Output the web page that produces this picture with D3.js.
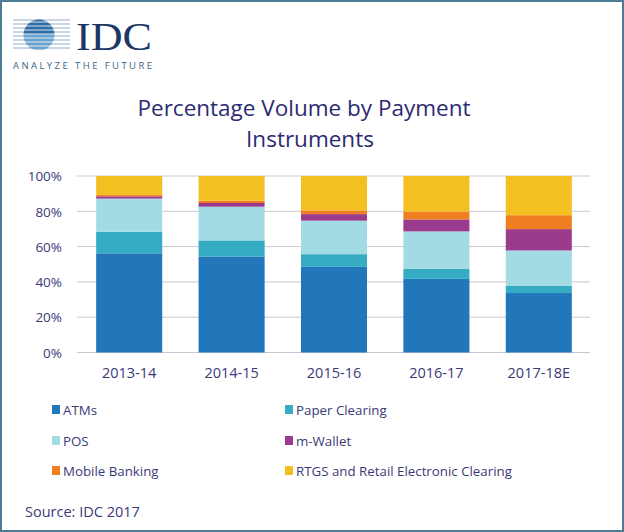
<!DOCTYPE html>
<html><head><meta charset="utf-8">
<script src="https://cdn.jsdelivr.net/npm/d3@7"></script>
<style>html,body{margin:0;padding:0;background:#fff;}svg{display:block;}</style>
</head><body>
<svg id="c" width="624" height="532"></svg>
<script>
const categories = ["2013-14","2014-15","2015-16","2016-17","2017-18E"];
const seriesNames = ["ATMs","Paper Clearing","POS","m-Wallet","Mobile Banking","RTGS and Retail Electronic Clearing"];
const seriesColors = ["#2277bb","#36abc4","#a3dbe4","#9b3b8e","#f07f22","#f4bf21"];
const atms   = [56.2, 54.4, 48.5, 41.7, 33.7];
const paper  = [12.2,  9.1,  7.2,  5.7,  4.2];
const pos    = [18.8, 19.1, 19.0, 21.2, 19.9];
const wallet = [ 1.3,  2.1,  3.7,  6.8, 12.1];
const mobile = [ 0.7,  1.3,  2.1,  4.4,  7.9];
const rtgs   = [10.8, 14.0, 19.5, 20.2, 22.2];
const yTicks = [0, 20, 40, 60, 80, 100];

const seriesValues = [atms, paper, pos, wallet, mobile, rtgs];
const rows = categories.map((c,i)=>{
  const r = {cat:c};
  seriesNames.forEach((s,j)=>{ r[s] = seriesValues[j][i]; });
  return r;
});

const svg = d3.select("#c");
const textCol = "#3b3a78";
const font = "'Open Sans', sans-serif";

// frame
svg.append("rect").attr("x",1).attr("y",1).attr("width",622).attr("height",530)
  .attr("fill","#fff").attr("stroke","#4d7c99").attr("stroke-width",2);

// logo
const logo = svg.append("g");
const cl = svg.append("defs").append("clipPath").attr("id","globe");
cl.append("circle").attr("cx",39).attr("cy",35).attr("r",15.5);
const stripeYs = d3.range(20, 52, 4);
logo.selectAll("line.s").data(stripeYs).join("line")
  .attr("x1",13).attr("x2",70).attr("y1",d=>d).attr("y2",d=>d)
  .attr("stroke","#b8c9da").attr("stroke-width",1.6);
logo.append("g").attr("clip-path","url(#globe)")
  .selectAll("rect").data(stripeYs).join("rect")
  .attr("x",20).attr("width",40).attr("y",d=>d-1.6).attr("height",3.2)
  .attr("fill",(d,i)=> i<4 ? "#2f6ea6" : "#6aa3cf");
logo.append("text").attr("x",76).attr("y",50).text("IDC")
  .attr("font-family","'Liberation Serif', 'DejaVu Serif', serif").attr("font-size",41)
  .attr("fill","#1c3766").attr("textLength",76).attr("lengthAdjust","spacingAndGlyphs");
logo.append("text").attr("x",13).attr("y",69).text("ANALYZE THE FUTURE")
  .attr("font-family",font).attr("font-size",9.5).attr("fill","#3d6283")
  .attr("textLength",139).attr("lengthAdjust","spacing");

// title
const title = svg.append("text").attr("text-anchor","middle")
  .attr("font-family",font).attr("font-size",22.5).attr("fill","#2c2b72");
title.append("tspan").attr("x",304).attr("y",116).text("Percentage Volume by Payment");
title.append("tspan").attr("x",310).attr("y",147).text("Instruments");

// scales
const x = d3.scaleBand().domain(categories).range([78,590]).paddingInner(0.355).paddingOuter(0.1775);
const y = d3.scaleLinear().domain([0,100]).range([352.5,176]);

// grid
svg.append("g").selectAll("line").data(yTicks).join("line")
  .attr("x1",77).attr("x2",590).attr("y1",d=>y(d)).attr("y2",d=>y(d))
  .attr("stroke","#c8c8d2").attr("stroke-width",1);

// y axis labels
const yAxis = d3.axisLeft(y).tickValues(yTicks).tickFormat(d=>d+"%").tickSize(0).tickPadding(0);
const yg = svg.append("g").attr("transform","translate(62,0)").call(yAxis);
yg.select(".domain").remove();
yg.selectAll("text").attr("font-family",font).attr("font-size",13.5).attr("fill",textCol).attr("dy","0.35em");

// bars
const stack = d3.stack().keys(seriesNames);
const layers = stack(rows);
svg.append("g").selectAll("g").data(layers).join("g")
  .attr("fill",(d,i)=>seriesColors[i])
  .selectAll("rect").data(d=>d).join("rect")
  .attr("x",d=>x(d.data.cat)).attr("width",x.bandwidth())
  .attr("y",d=>y(d[1])).attr("height",d=>y(d[0])-y(d[1]));

// x axis
const xAxis = d3.axisBottom(x).tickSize(0).tickPadding(0);
const xg = svg.append("g").attr("transform","translate(0,372.5)").call(xAxis);
xg.select(".domain").remove();
xg.selectAll("text").attr("font-family",font).attr("font-size",14.5).attr("fill",textCol).attr("dy","0.35em");

// legend
const legX = [52, 285], legY = [410, 441, 471];
const leg = svg.append("g").selectAll("g").data(seriesNames).join("g")
  .attr("transform",(d,i)=>`translate(${legX[i%2]},${legY[Math.floor(i/2)]})`);
leg.append("rect").attr("x",0).attr("y",-5).attr("width",8).attr("height",9)
  .attr("fill",(d,i)=>seriesColors[i]);
leg.append("text").attr("x",11).attr("y",0).attr("dy","0.35em").text(d=>d)
  .attr("font-family",font).attr("font-size",13.3).attr("fill",textCol);

// source
svg.append("text").attr("x",25).attr("y",517).text("Source: IDC 2017")
  .attr("font-family",font).attr("font-size",14.5).attr("fill",textCol);
</script>
</body></html>
